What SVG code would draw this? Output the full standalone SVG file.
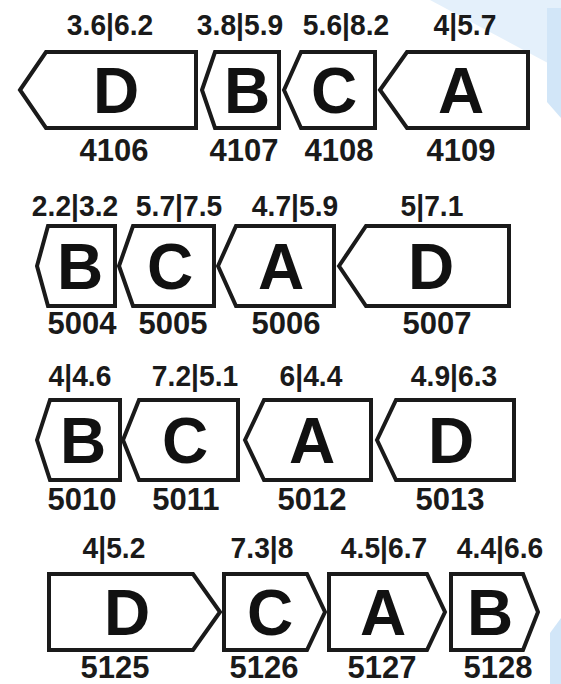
<svg xmlns="http://www.w3.org/2000/svg" width="561" height="684" viewBox="0 0 561 684">
<style>
.bg{fill:#ffffff}
.deco1{fill:#e4f0fb}
.deco2{fill:#d2e6f8}
.tag{fill:#ffffff;stroke:#1a1a1a;stroke-width:4;stroke-linejoin:miter}
.big{font-family:"Liberation Sans",Arial,sans-serif;font-weight:bold;font-size:64px;fill:#111;text-anchor:middle}
.top{font-family:"Liberation Sans",Arial,sans-serif;font-weight:bold;font-size:30px;fill:#1a1a1a;text-anchor:middle}
.id{font-family:"Liberation Sans",Arial,sans-serif;font-weight:bold;font-size:31px;fill:#1a1a1a;text-anchor:middle}
</style>
<rect class="bg" x="0" y="0" width="561" height="684"/>
<g id="decoration">
<polygon class="deco1" points="430,0 561,0 561,70"/>
<polygon class="deco2" points="547,8 561,8 561,118 547,102"/>
<polygon class="deco2" points="550,633 561,618 561,684 550,684"/>
</g>
<g id="row1">
<g id="n4106">
<polygon class="tag" points="20,90 46,52 196,52 196,128 46,128"/>
<text class="big" x="116" y="113">D</text>
<text class="top" transform="translate(110,35) scale(0.94,1)">3.6|6.2</text>
<text class="id" x="114" y="161">4106</text>
</g>
<g id="n4107">
<polygon class="tag" points="202,90 215,52 279,52 279,128 215,128"/>
<text class="big" x="247" y="113">B</text>
<text class="top" transform="translate(240,35) scale(0.94,1)">3.8|5.9</text>
<text class="id" x="244" y="161">4107</text>
</g>
<g id="n4108">
<polygon class="tag" points="284,90 301,52 375,52 375,128 301,128"/>
<text class="big" x="334" y="113">C</text>
<text class="top" transform="translate(346,35) scale(0.94,1)">5.6|8.2</text>
<text class="id" x="339" y="161">4108</text>
</g>
<g id="n4109">
<polygon class="tag" points="380,90 407,52 528,52 528,128 407,128"/>
<text class="big" x="461" y="113">A</text>
<text class="top" transform="translate(465,35) scale(0.94,1)">4|5.7</text>
<text class="id" x="461" y="161">4109</text>
</g>
</g>
<g id="row2">
<g id="n5004">
<polygon class="tag" points="37,266 48,226 115,226 115,306 48,306"/>
<text class="big" x="80" y="289">B</text>
<text class="top" transform="translate(75,216) scale(0.94,1)">2.2|3.2</text>
<text class="id" x="82" y="334">5004</text>
</g>
<g id="n5005">
<polygon class="tag" points="119,266 133,226 214,226 214,306 133,306"/>
<text class="big" x="170" y="289">C</text>
<text class="top" transform="translate(179,216) scale(0.94,1)">5.7|7.5</text>
<text class="id" x="173" y="334">5005</text>
</g>
<g id="n5006">
<polygon class="tag" points="218,266 236,226 334,226 334,306 236,306"/>
<text class="big" x="281" y="289">A</text>
<text class="top" transform="translate(295,216) scale(0.94,1)">4.7|5.9</text>
<text class="id" x="286" y="334">5006</text>
</g>
<g id="n5007">
<polygon class="tag" points="339,266 366,226 509,226 509,306 366,306"/>
<text class="big" x="431" y="289">D</text>
<text class="top" transform="translate(432,216) scale(0.94,1)">5|7.1</text>
<text class="id" x="437" y="334">5007</text>
</g>
</g>
<g id="row3">
<g id="n5010">
<polygon class="tag" points="37,440 50,400 120,400 120,480 50,480"/>
<text class="big" x="83" y="463">B</text>
<text class="top" transform="translate(80,386) scale(0.94,1)">4|4.6</text>
<text class="id" x="82" y="510">5010</text>
</g>
<g id="n5011">
<polygon class="tag" points="123,440 139,400 238,400 238,480 139,480"/>
<text class="big" x="185" y="463">C</text>
<text class="top" transform="translate(195,386) scale(0.94,1)">7.2|5.1</text>
<text class="id" x="186" y="510">5011</text>
</g>
<g id="n5012">
<polygon class="tag" points="245,440 264,400 371,400 371,480 264,480"/>
<text class="big" x="312" y="463">A</text>
<text class="top" transform="translate(311,386) scale(0.94,1)">6|4.4</text>
<text class="id" x="312" y="510">5012</text>
</g>
<g id="n5013">
<polygon class="tag" points="377,440 396,400 514,400 514,480 396,480"/>
<text class="big" x="451" y="463">D</text>
<text class="top" transform="translate(454,386) scale(0.94,1)">4.9|6.3</text>
<text class="id" x="450" y="510">5013</text>
</g>
</g>
<g id="row4">
<g id="n5125">
<polygon class="tag" points="49,574 193,574 220,612 193,650 49,650"/>
<text class="big" x="127" y="635">D</text>
<text class="top" transform="translate(114,558) scale(0.94,1)">4|5.2</text>
<text class="id" x="115" y="678">5125</text>
</g>
<g id="n5126">
<polygon class="tag" points="224,574 307,574 325,612 307,650 224,650"/>
<text class="big" x="270" y="635">C</text>
<text class="top" transform="translate(262,558) scale(0.94,1)">7.3|8</text>
<text class="id" x="264" y="678">5126</text>
</g>
<g id="n5127">
<polygon class="tag" points="329,574 427,574 445,612 427,650 329,650"/>
<text class="big" x="383" y="635">A</text>
<text class="top" transform="translate(384,558) scale(0.94,1)">4.5|6.7</text>
<text class="id" x="382" y="678">5127</text>
</g>
<g id="n5128">
<polygon class="tag" points="451,574 523,574 538,612 523,650 451,650"/>
<text class="big" x="490" y="635">B</text>
<text class="top" transform="translate(500,558) scale(0.94,1)">4.4|6.6</text>
<text class="id" x="498" y="678">5128</text>
</g>
</g>
<g id="connectors"/>
</svg>
